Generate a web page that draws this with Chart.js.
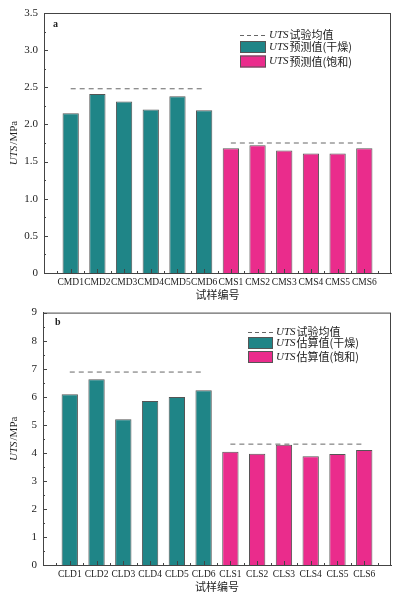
<!DOCTYPE html>
<html>
<head>
<meta charset="utf-8">
<script src="https://cdn.jsdelivr.net/npm/chart.js@4/dist/chart.umd.min.js"></script>
<style>
  body { margin: 0; background: #fff; }
  canvas { position: absolute; left: 0; }
  #chartA { top: 0; }
  #chartB { top: 300px; }
</style>
</head>
<body>
<canvas id="chartA" width="399" height="300"></canvas>
<canvas id="chartB" width="399" height="297"></canvas>
<script>
// ---- data ----
const labelsA = ["CMD1", "CMD2", "CMD3", "CMD4", "CMD5", "CMD6", "CMS1", "CMS2", "CMS3", "CMS4", "CMS5", "CMS6"];
const dryA = [2.15, 2.41, 2.31, 2.20, 2.38, 2.19];   // UTS 预测值(干燥)
const satA = [1.68, 1.72, 1.65, 1.61, 1.61, 1.68];   // UTS 预测值(饱和)
const meanA = [2.48, 1.75];                          // UTS 试验均值 (dry, saturated)
const legendA = ["试验均值", "预测值(干燥)", "预测值(饱和)"];

const labelsB = ["CLD1", "CLD2", "CLD3", "CLD4", "CLD5", "CLD6", "CLS1", "CLS2", "CLS3", "CLS4", "CLS5", "CLS6"];
const dryB = [6.09, 6.62, 5.20, 5.85, 5.99, 6.23];   // UTS 估算值(干燥)
const satB = [4.04, 3.97, 4.29, 3.88, 3.96, 4.10];   // UTS 估算值(饱和)
const meanB = [6.88, 4.31];
const legendB = ["试验均值", "估算值(干燥)", "估算值(饱和)"];

const TEAL = "#1f8587";
const PINK = "#ea2c8c";
const INK = "#222";
const SERIF = '"Liberation Serif", "DejaVu Serif", serif';
const CJK = '"Noto Sans CJK SC", sans-serif';

// inward tick marks + frame, drawn over the bars like the original
const tickMarks = {
  id: "tickMarks",
  afterDraw(chart, args, o) {
    let ctx = chart.ctx, a = chart.chartArea;
    let xs = chart.scales.x, ys = chart.scales.y;
    ctx.save();
    ctx.strokeStyle = "#444";
    ctx.lineWidth = 1;
    ctx.strokeRect(a.left + 0.5, a.top + 0.5, a.right - a.left - 1, a.bottom - a.top);
    // y ticks (major / minor)
    for (let i = 0; i * o.yMinor <= ys.max + 1e-9; i++) {
      let v = i * o.yMinor;
      let p = Math.round(ys.getPixelForValue(v)) + 0.5;
      let len = (i % 2 == 0) ? 4 : 2;
      ctx.beginPath();
      ctx.moveTo(a.left, p);
      ctx.lineTo(a.left + len, p);
      ctx.stroke();
    }
    // x ticks: major at each sample, minor half way between
    for (let i = 1; i < xs.max * 2; i++) {
      let p = Math.round(xs.getPixelForValue(i / 2)) + 0.5;
      let len = (i % 2 == 0) ? 4 : 2;
      ctx.beginPath();
      ctx.moveTo(p, a.bottom);
      ctx.lineTo(p, a.bottom - len);
      ctx.stroke();
    }
    ctx.restore();
  }
};

// draw "UTS" in italic followed by the rest upright
function mixedText(ctx, rest, x, y, size) {
  ctx.font = "italic " + size + "px " + SERIF;
  let w1 = ctx.measureText("UTS").width;
  ctx.fillText("UTS", x, y);
  ctx.font = size + "px " + (/[\u4e00-\u9fff]/.test(rest) ? CJK : SERIF);
  ctx.fillText(rest, x + w1 + 1, y);
  return w1 + 1 + ctx.measureText(rest).width;
}

// panel letter, axis titles and the legend inside the plot
const extras = {
  id: "extras",
  afterDraw(chart, args, o) {
    let ctx = chart.ctx, a = chart.chartArea;
    ctx.save();
    ctx.fillStyle = INK;
    ctx.textBaseline = "middle";
    ctx.font = "bold 10px " + SERIF;
    ctx.fillText(o.letter, o.letterX, o.letterY);

    ctx.font = "11px " + CJK;
    ctx.textAlign = "center";
    ctx.fillText("试样编号", (a.left + a.right) / 2, o.xTitleY);
    ctx.textAlign = "left";

    // y title, rotated
    ctx.save();
    ctx.translate(o.yTitleX, (a.top + a.bottom) / 2);
    ctx.rotate(-Math.PI / 2);
    ctx.font = "italic 11px " + SERIF;
    let w = ctx.measureText("UTS").width + 1;
    ctx.font = "11px " + SERIF;
    w += ctx.measureText("/MPa").width;
    mixedText(ctx, "/MPa", -w / 2, 0, 11);
    ctx.restore();

    // legend
    let L = o.legend;
    let ds = chart.data.datasets;
    ctx.strokeStyle = ds[0].borderColor;
    ctx.setLineDash([4, 3]);
    ctx.beginPath();
    ctx.moveTo(L.x, L.rows[0] + 0.5);
    ctx.lineTo(L.x + L.w, L.rows[0] + 0.5);
    ctx.stroke();
    ctx.setLineDash([]);
    for (let k = 1; k <= 2; k++) {
      let d = ds[k + 1];
      ctx.fillStyle = d.backgroundColor;
      ctx.fillRect(L.x, L.rows[k] - L.h / 2, L.w, L.h);
      ctx.strokeStyle = d.borderColor;
      ctx.strokeRect(L.x + 0.5, L.rows[k] - L.h / 2 + 0.5, L.w - 1, L.h - 1);
    }
    ctx.fillStyle = INK;
    for (let k = 0; k < 3; k++) {
      mixedText(ctx, o.names[k], L.x + L.w + 3, L.rows[k], 11);
    }
    ctx.restore();
  }
};

function buildChart(id, labels, dry, sat, mean, names, yMax, yStep, pad, plotBottom, yWidth, ex) {
  let dryPts = dry.map((v, i) => ({ x: i + 1, y: v }));
  let satPts = sat.map((v, i) => ({ x: dry.length + i + 1, y: v }));
  let meanDry = [{ x: 1, y: mean[0] }, { x: dry.length, y: mean[0] }];
  let meanSat = [{ x: dry.length + 1, y: mean[1] }, { x: labels.length, y: mean[1] }];
  let canvas = document.getElementById(id);
  let lineStyle = { type: "line", borderColor: "#666", borderWidth: 1, borderDash: [5, 4], pointRadius: 0, fill: false };

  return new Chart(canvas.getContext("2d"), {
    data: {
      datasets: [
        Object.assign({ data: meanDry, label: "UTS" + names[0] }, lineStyle),
        Object.assign({ data: meanSat, label: "UTS" + names[0] }, lineStyle),
        { type: "bar", data: dryPts, label: "UTS" + names[1], backgroundColor: TEAL, borderColor: "#555", borderWidth: 1,
          grouped: false, categoryPercentage: 1, barPercentage: 0.61 },
        { type: "bar", data: satPts, label: "UTS" + names[2], backgroundColor: PINK, borderColor: "#555", borderWidth: 1,
          grouped: false, categoryPercentage: 1, barPercentage: 0.61 }
      ]
    },
    options: {
      responsive: false,
      animation: false,
      devicePixelRatio: 1,
      layout: { padding: pad },
      scales: {
        x: {
          type: "linear", min: 0, max: labels.length + 1, offset: false,
          grid: { display: false, drawTicks: false },
          border: { display: true, color: "#444" },
          afterFit: s => { s.height = canvas.height - plotBottom; },
          afterBuildTicks: s => { s.ticks = labels.map((l, i) => ({ value: i + 1 })); },
          ticks: {
            autoSkip: false, maxRotation: 0, padding: 4, color: INK,
            font: { family: SERIF, size: 9.5 },
            callback: v => labels[v - 1]
          }
        },
        y: {
          min: 0, max: yMax,
          grid: { display: false, drawTicks: false },
          border: { display: true, color: "#444" },
          afterFit: s => { s.width = yWidth; },
          ticks: {
            stepSize: yStep, padding: 6, color: INK,
            font: { family: SERIF, size: 11 },
            callback: v => (v == 0 ? "0" : (yStep < 1 ? v.toFixed(1) : String(v)))
          }
        }
      },
      plugins: {
        legend: { display: false },
        tooltip: { enabled: false },
        tickMarks: { yMinor: yStep / 2 },
        extras: Object.assign({ names: names }, ex)
      }
    },
    plugins: [tickMarks, extras]
  });
}

buildChart("chartA", labelsA, dryA, satA, meanA, legendA, 3.5, 0.5,
  { top: 13, right: 8, left: 0, bottom: 0 }, 273, 44,
  { letter: "a", letterX: 53, letterY: 24, xTitleY: 295, yTitleX: 14,
    legend: { x: 240, w: 26, h: 12, rows: [35, 47, 61.5] } });

buildChart("chartB", labelsB, dryB, satB, meanB, legendB, 9, 1,
  { top: 11, right: 8, left: 0, bottom: 0 }, 265, 43,
  { letter: "b", letterX: 55, letterY: 22, xTitleY: 287, yTitleX: 14,
    legend: { x: 248, w: 25, h: 12, rows: [32, 43, 57] } });
</script>
</body>
</html>
